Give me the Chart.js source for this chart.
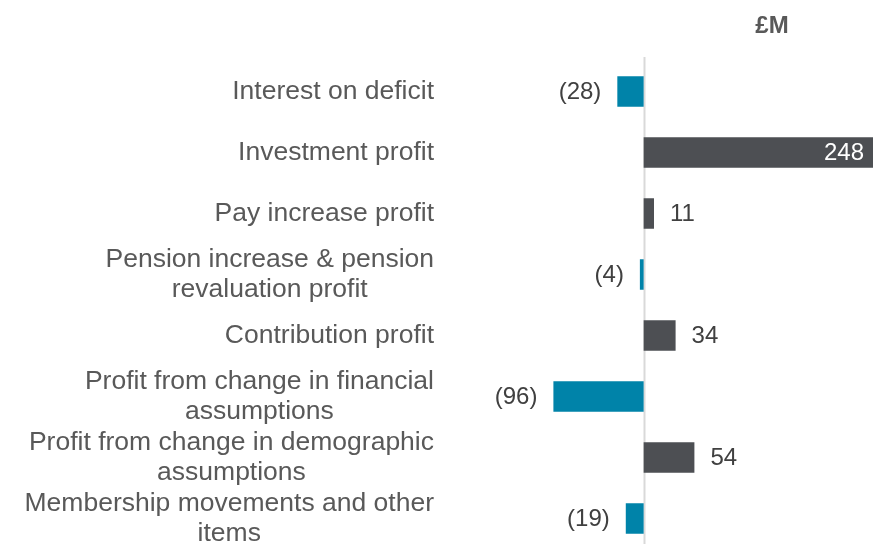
<!DOCTYPE html>
<html>
<head>
<meta charset="utf-8">
<script src="https://cdn.jsdelivr.net/npm/chart.js@4/dist/chart.umd.min.js"></script>
<style>
  html, body { margin: 0; padding: 0; background: #ffffff; overflow: hidden; }
  #wrap { position: relative; width: 873px; height: 549px; }
</style>
</head>
<body>
<div id="wrap"><canvas id="bridgeChart"></canvas></div>
<script>
// Chart data
const categories = [
  ['Interest on deficit'],
  ['Investment profit'],
  ['Pay increase profit'],
  ['Pension increase & pension', 'revaluation profit'],
  ['Contribution profit'],
  ['Profit from change in financial', 'assumptions'],
  ['Profit from change in demographic', 'assumptions'],
  ['Membership movements and other', 'items']
];
const values = [-28, 248, 11, -4, 34, -96, 54, -19];
const unitLabel = '£M';

const NEG_COLOR = '#0083a9';
const POS_COLOR = '#4d4f53';
const TEXT_COLOR = '#595959';
const VALUE_COLOR = '#404040';
const FONT = '"Liberation Sans", Arial, sans-serif';

function formatValue(v) {
  return v < 0 ? '(' + Math.abs(v) + ')' : String(v);
}

// Light vertical line at zero, behind the bars
const zeroLine = {
  id: 'zeroLine',
  beforeDatasetsDraw(chart) {
    const ctx = chart.ctx;
    const area = chart.chartArea;
    const x = Math.round(chart.scales.x.getPixelForValue(0)) + 0.5;
    ctx.save();
    ctx.strokeStyle = '#d9d9d9';
    ctx.lineWidth = 2;
    ctx.beginPath();
    ctx.moveTo(x, area.top - 4);
    ctx.lineTo(x, area.bottom);
    ctx.stroke();
    ctx.restore();
  }
};

// Category labels: right-aligned blocks, lines centred within each block
const categoryLabels = {
  id: 'categoryLabels',
  afterDraw(chart) {
    const ctx = chart.ctx;
    const yScale = chart.scales.y;
    const right = 434;
    const lineHeight = 30;
    ctx.save();
    ctx.font = '26.5px ' + FONT;
    ctx.fillStyle = TEXT_COLOR;
    ctx.textAlign = 'center';
    ctx.textBaseline = 'middle';
    categories.forEach((lines, i) => {
      const cy = yScale.getPixelForValue(i);
      const widest = Math.max(...lines.map(l => ctx.measureText(l).width));
      const cx = right - widest / 2;
      const startY = cy - (lines.length - 1) * lineHeight / 2;
      lines.forEach((line, j) => {
        ctx.fillText(line, cx, startY + j * lineHeight);
      });
    });

    // Unit heading
    ctx.font = 'bold 24px ' + FONT;
    ctx.fillText(unitLabel, 772, 26);
    ctx.restore();
  }
};

// Value labels next to (or inside) each bar
const valueLabels = {
  id: 'valueLabels',
  afterDatasetsDraw(chart) {
    const ctx = chart.ctx;
    const area = chart.chartArea;
    const meta = chart.getDatasetMeta(0);
    ctx.save();
    ctx.font = '24px ' + FONT;
    ctx.textBaseline = 'middle';
    meta.data.forEach((bar, i) => {
      const v = values[i];
      const text = formatValue(v);
      const w = ctx.measureText(text).width;
      if (v >= 0 && bar.x + 16 + w > area.right) {
        ctx.fillStyle = '#ffffff';
        ctx.textAlign = 'right';
        ctx.fillText(text, Math.min(bar.x, area.right) - 9, bar.y + 1);
      } else if (v >= 0) {
        ctx.fillStyle = VALUE_COLOR;
        ctx.textAlign = 'left';
        ctx.fillText(text, bar.x + 16, bar.y + 1);
      } else {
        ctx.fillStyle = VALUE_COLOR;
        ctx.textAlign = 'right';
        ctx.fillText(text, bar.x - 16, bar.y + 1);
      }
    });
    ctx.restore();
  }
};

const ctx = document.getElementById('bridgeChart').getContext('2d');
new Chart(ctx, {
  type: 'bar',
  data: {
    labels: categories,
    datasets: [{
      data: values,
      backgroundColor: values.map(v => v < 0 ? NEG_COLOR : POS_COLOR),
      borderWidth: 0,
      categoryPercentage: 1,
      barPercentage: 0.5
    }]
  },
  options: {
    indexAxis: 'y',
    responsive: true,
    maintainAspectRatio: false,
    animation: false,
    layout: { padding: { left: 450, top: 61, right: 0, bottom: 0 } },
    plugins: {
      legend: { display: false },
      tooltip: { enabled: false }
    },
    scales: {
      x: {
        display: false,
        min: -206,
        max: 244
      },
      y: {
        display: false
      }
    }
  },
  plugins: [zeroLine, categoryLabels, valueLabels]
});
</script>
</body>
</html>
